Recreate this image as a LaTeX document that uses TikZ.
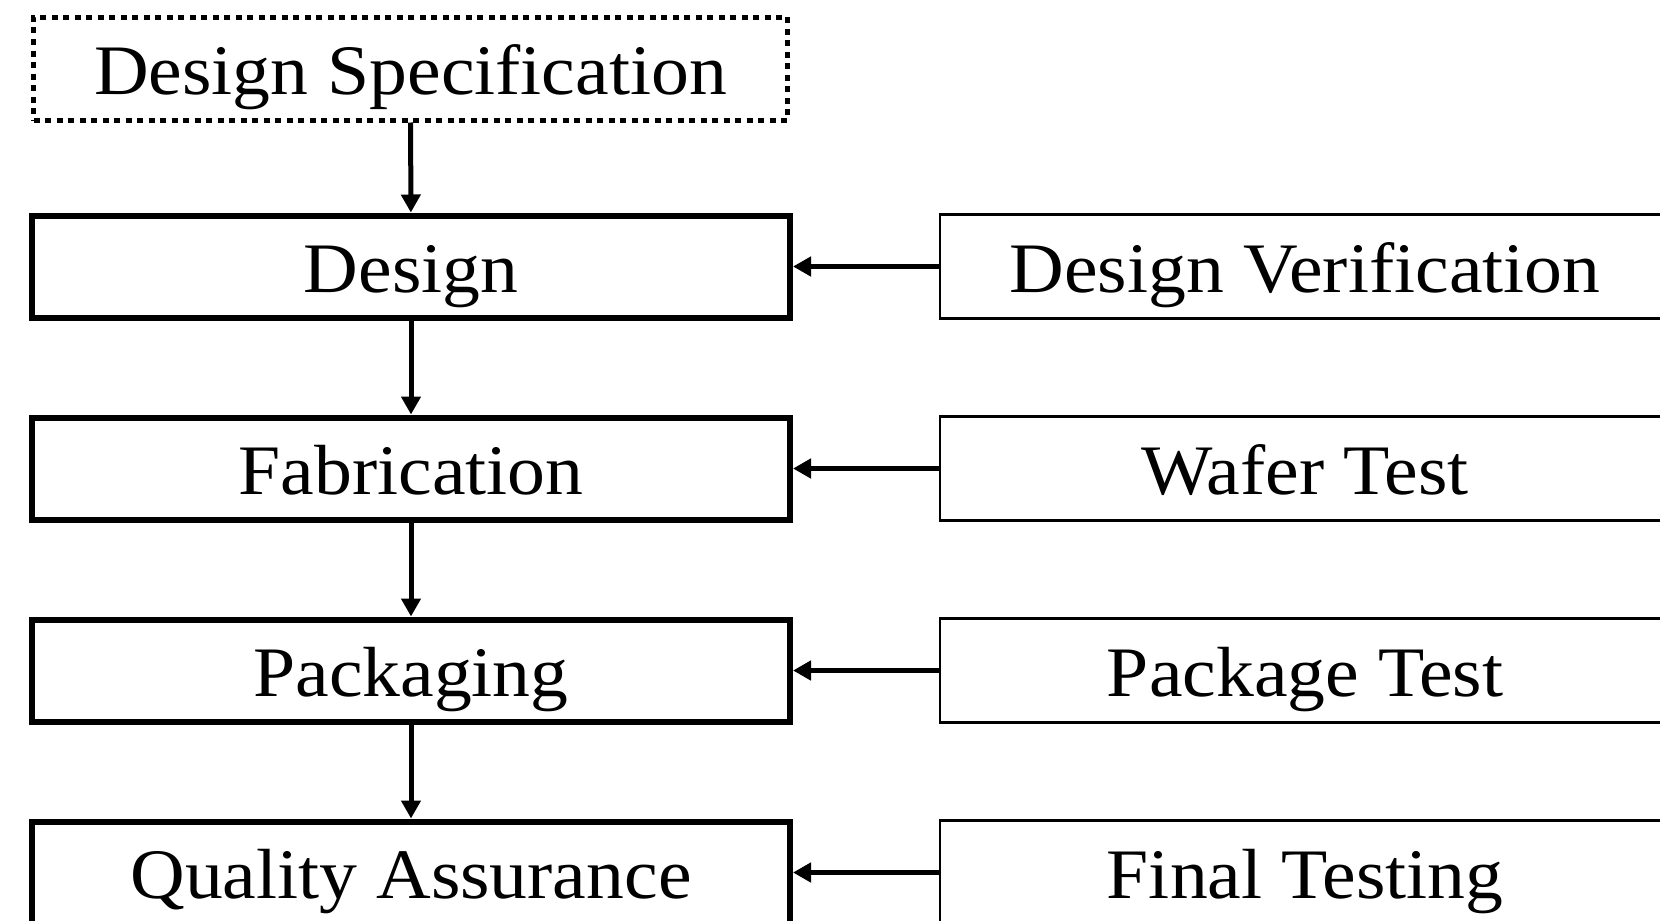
\documentclass[tikz,border=0pt]{standalone}
\usepackage{fontspec}
\setmainfont{Liberation Serif}[FakeStretch=1.066]
\usetikzlibrary{arrows.meta}
\begin{document}
\begin{tikzpicture}[x=0.5pt,y=-0.5pt,
  label font/.style={font=\fontsize{35.5pt}{40pt}\selectfont, text height=26pt, text depth=0pt, inner sep=0pt},
  stage/.style={draw=black, line width=3pt, minimum width=379pt, minimum height=51pt, label font},
  test/.style={draw=black, line width=1.4pt, minimum width=365pt, minimum height=52pt, label font},
  spec/.style={draw=black, line width=2.5pt, dash pattern=on 3pt off 2.75pt, minimum width=377pt, minimum height=51.5pt, label font},
  conn/.style={line width=2.5pt, -{Triangle[length=9pt,width=9.5pt]}}]
\useasboundingbox (0,0) rectangle (1660,921);

% main flow
\node[spec]  (dspec) at (410.5,68.5) {Design Specification};
\node[stage] (des)   at (411,266.5) {Design};
\node[stage] (fab)   at (411,468.5) {Fabrication};
\node[stage] (pack)  at (411,670.5) {Packaging};
\node[stage] (qa)    at (411,872.5) {Quality Assurance};

% test steps
\node[test] (dver)  at (1305,266.5) {Design Verification};
\node[test] (wafer) at (1305,468.5) {Wafer Test};
\node[test] (ptest) at (1305,670.5) {Package Test};
\node[test] (final) at (1305,872.5) {Final Testing};

\draw[conn] (dspec) -- (des);
\draw[conn] (des) -- (fab);
\draw[conn] (fab) -- (pack);
\draw[conn] (pack) -- (qa);

\draw[conn] (dver) -- (des);
\draw[conn] (wafer) -- (fab);
\draw[conn] (ptest) -- (pack);
\draw[conn] (final) -- (qa);
\end{tikzpicture}
\end{document}
